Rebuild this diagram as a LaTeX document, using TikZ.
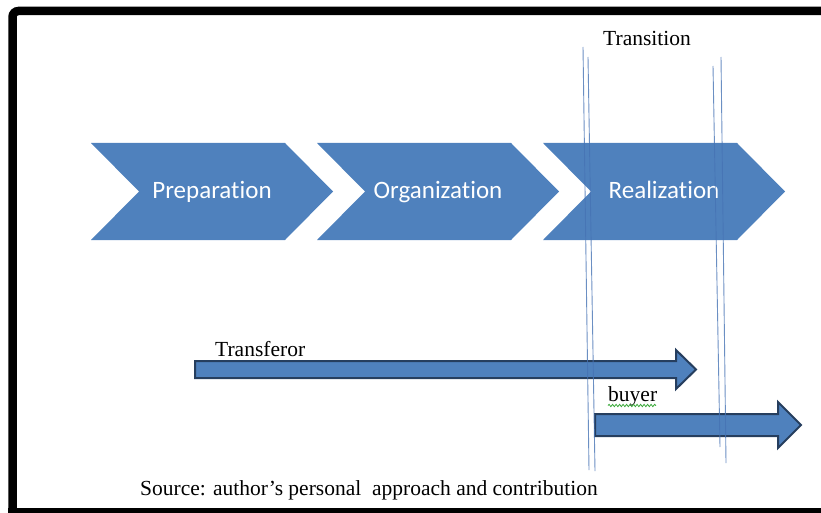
\documentclass[tikz,border=0pt]{standalone}
\usepackage{fontspec}
\setmainfont{Liberation Serif}
\newfontfamily\calibri[Ligatures=NoCommon]{Carlito}
\usepackage{tikz}
\usetikzlibrary{decorations.pathmorphing}

\definecolor{officeblue}{RGB}{79,129,189}
\definecolor{arrowline}{RGB}{38,62,94}
\definecolor{guideblue}{RGB}{70,115,180}
\definecolor{spellgreen}{RGB}{60,170,60}

\begin{document}
\begin{tikzpicture}[x=1pt,y=-1pt,
	chevron/.style={fill=officeblue},
	phase/.style={anchor=base,inner sep=0pt,text=white,font=\calibri\fontsize{25}{30}\selectfont},
	label/.style={anchor=base west,inner sep=0pt,font=\fontsize{21.5}{25}\selectfont},
	blockarrow/.style={fill=officeblue,draw=arrowline,line width=2,line join=miter},
	guide/.style={draw=guideblue,line width=0.9,opacity=0.8}]
\clip (0,0) rectangle (821,513);
% frame
\draw[line width=8.5,rounded corners=6] (12.5,530) -- (12.5,11) -- (840,11);
\draw[line width=8] (8,512) -- (840,512);
% phases
\foreach \x/\name/\txt in {91/prep/Preparation, 317/org/Organization, 543/real/Realization}{
	\fill[chevron] (\x,143) -- ++(194,0) -- ++(48,48.5) -- ++(-48,48.5)
		-- ++(-194,0) -- ++(48,-48.5) -- cycle;
	\node[phase] (\name) at (\x+121,198) {\txt};
}
% transferor and buyer
\draw[blockarrow] (195,361) -- (676,361) -- (676,350) -- (696,369.5)
	-- (676,389) -- (676,378) -- (195,378) -- cycle;
\node[label] (transferor) at (215,356) {Transferor};
\draw[blockarrow] (595,414) -- (778,414) -- (778,402) -- (801,425)
	-- (778,448) -- (778,436) -- (595,436) -- cycle;
\node[label] (buyer) at (608,401) {buyer};
\draw[spellgreen,line width=0.8,decorate,decoration={snake,segment length=3.5,amplitude=1.2}]
	(buyer.base west) ++(0,4.5) -- ++(48,0);
% transition
\node[label] (transition) at (603,46) {Transition};
\draw[guide] (583,47) -- (589,470);
\draw[guide] (588,57) -- (595,471);
\draw[guide] (713,66) -- (720,447);
\draw[guide] (721,57) -- (726,463);
\node[label] (source) at (140,495) {Source: author’s personal\ \ approach and contribution};
\end{tikzpicture}
\end{document}
